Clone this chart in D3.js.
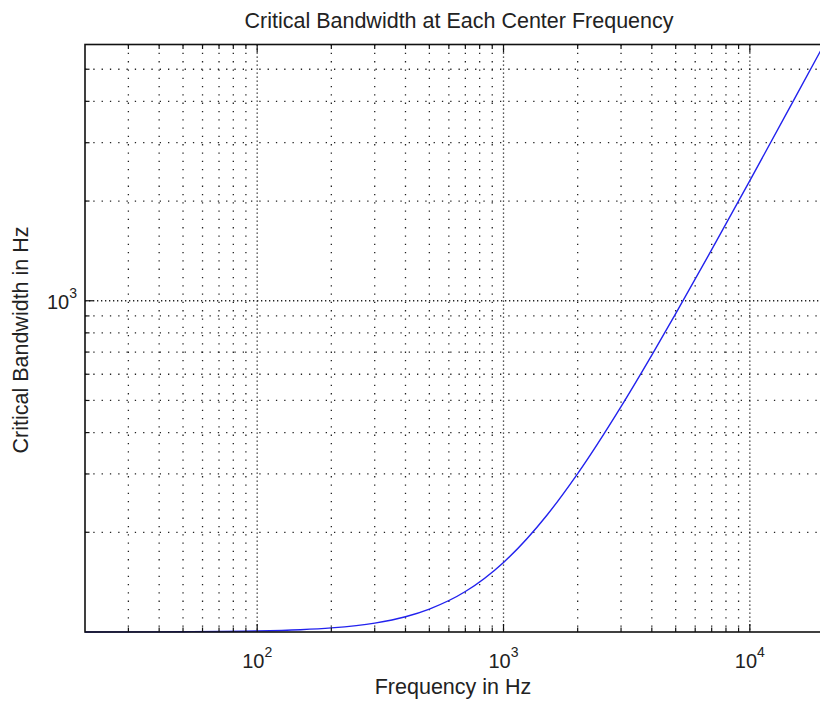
<!DOCTYPE html>
<html>
<head>
<meta charset="utf-8">
<script src="https://cdn.jsdelivr.net/npm/d3@7/dist/d3.min.js"></script>
<style>
  html, body { margin: 0; padding: 0; background: #fff; overflow: hidden; }
  svg { display: block; }
  text { font-family: "Liberation Sans", Arial, Helvetica, sans-serif; fill: #222; }
</style>
</head>
<body>
<svg id="chart" width="820" height="703"></svg>
<script>
// ---- data ----
const frequencies = [20, 50, 100, 150, 200, 300, 400, 500, 700, 1000, 1500, 2000, 3000, 4000, 5000, 7000, 10000, 15000, 20000];
const bandwidths  = [100.0, 100.2, 100.7, 101.6, 102.9, 106.4, 111.2, 117.3, 132.5, 162.2, 225.2, 300.8, 479.2, 685.5, 914.0, 1426.1, 2305.6, 4004.8, 5938.0];
const xMajorTicks = [100, 1000, 10000];
const xMinorTicks = [30, 40, 50, 60, 70, 80, 90, 200, 300, 400, 500, 600, 700, 800, 900, 2000, 3000, 4000, 5000, 6000, 7000, 8000, 9000];
const yMajorTicks = [1000];
const yMinorTicks = [200, 300, 400, 500, 600, 700, 800, 900, 2000, 3000, 4000, 5000];
const xTickLabels = [["10", "2"], ["10", "3"], ["10", "4"]];
const yTickLabels = [["10", "3"]];
const titleText = "Critical Bandwidth at Each Center Frequency";
const xLabelText = "Frequency in Hz";
const yLabelText = "Critical Bandwidth in Hz";

(function () {
// ---- layout ----
const svg = d3.select("#chart");
const mLeft = 85, mRight = 824, mTop = 44.5, mBottom = 632;

const x = d3.scaleLog().domain([20, 20000]).range([mLeft, mRight]);
const y = d3.scaleLog().domain([100, 5938]).range([mBottom, mTop]);

const g = svg.append("g");

// grid
const gridColor = "#222";
g.append("g").selectAll("line").data(xMinorTicks).join("line")
  .attr("x1", d => x(d)).attr("x2", d => x(d)).attr("y1", mTop).attr("y2", mBottom)
  .attr("stroke", gridColor).attr("stroke-width", 1.3).attr("stroke-dasharray", "1.3,7");
g.append("g").selectAll("line").data(xMajorTicks).join("line")
  .attr("x1", d => x(d)).attr("x2", d => x(d)).attr("y1", mTop).attr("y2", mBottom)
  .attr("stroke", gridColor).attr("stroke-width", 1.3).attr("stroke-dasharray", "1.3,2.7");
g.append("g").selectAll("line").data(yMinorTicks).join("line")
  .attr("x1", mLeft).attr("x2", mRight).attr("y1", d => y(d)).attr("y2", d => y(d))
  .attr("stroke", gridColor).attr("stroke-width", 1.3).attr("stroke-dasharray", "1.3,7");
g.append("g").selectAll("line").data(yMajorTicks).join("line")
  .attr("x1", mLeft).attr("x2", mRight).attr("y1", d => y(d)).attr("y2", d => y(d))
  .attr("stroke", gridColor).attr("stroke-width", 1.3).attr("stroke-dasharray", "1.3,2.7");

// curve
const line = d3.line().x(d => x(d[0])).y(d => y(d[1])).curve(d3.curveMonotoneX);
g.append("path")
  .datum(frequencies.map((f, i) => [f, bandwidths[i]]))
  .attr("d", line)
  .attr("fill", "none").attr("stroke", "#2222ee").attr("stroke-width", 1.4);

// ticks (inward, on bottom/top/left)
const tickColor = "#111";
const majLen = 8, minLen = 4.5;
function xTicks(vals, len) {
  g.append("g").selectAll("line").data(vals).join("line")
    .attr("x1", d => x(d)).attr("x2", d => x(d)).attr("y1", mBottom).attr("y2", mBottom - len)
    .attr("stroke", tickColor).attr("stroke-width", 1.2);
  g.append("g").selectAll("line").data(vals).join("line")
    .attr("x1", d => x(d)).attr("x2", d => x(d)).attr("y1", mTop).attr("y2", mTop + len)
    .attr("stroke", tickColor).attr("stroke-width", 1.2);
}
xTicks(xMajorTicks, majLen);
xTicks(xMinorTicks, minLen);
function yTicks(vals, len) {
  g.append("g").selectAll("line").data(vals).join("line")
    .attr("x1", mLeft).attr("x2", mLeft + len).attr("y1", d => y(d)).attr("y2", d => y(d))
    .attr("stroke", tickColor).attr("stroke-width", 1.2);
}
yTicks(yMajorTicks, majLen);
yTicks(yMinorTicks, minLen);

// box
g.append("rect").attr("x", mLeft).attr("y", mTop).attr("width", mRight - mLeft).attr("height", mBottom - mTop)
  .attr("fill", "none").attr("stroke", "#111").attr("stroke-width", 1.6);

// tick labels
const xl = g.append("g").selectAll("text").data(xMajorTicks).join("text")
  .attr("x", d => x(d)).attr("y", 668).attr("text-anchor", "middle").attr("font-size", 20);
xl.append("tspan").text((d, i) => xTickLabels[i][0]);
xl.append("tspan").attr("dy", -11).attr("font-size", 14).text((d, i) => xTickLabels[i][1]);

const yl = g.append("g").selectAll("text").data(yMajorTicks).join("text")
  .attr("x", 77).attr("y", d => y(d) + 8).attr("text-anchor", "end").attr("font-size", 20);
yl.append("tspan").text((d, i) => yTickLabels[i][0]);
yl.append("tspan").attr("dy", -11).attr("font-size", 14).text((d, i) => yTickLabels[i][1]);

// title and labels
svg.append("text").attr("x", 459).attr("y", 28).attr("text-anchor", "middle")
  .attr("font-size", 21.5).text(titleText);
svg.append("text").attr("x", 453).attr("y", 694).attr("text-anchor", "middle")
  .attr("font-size", 21.5).text(xLabelText);
svg.append("text").attr("transform", "translate(28,340) rotate(-90)")
  .attr("text-anchor", "middle").attr("font-size", 21.5).text(yLabelText);
})();
</script>
</body>
</html>
